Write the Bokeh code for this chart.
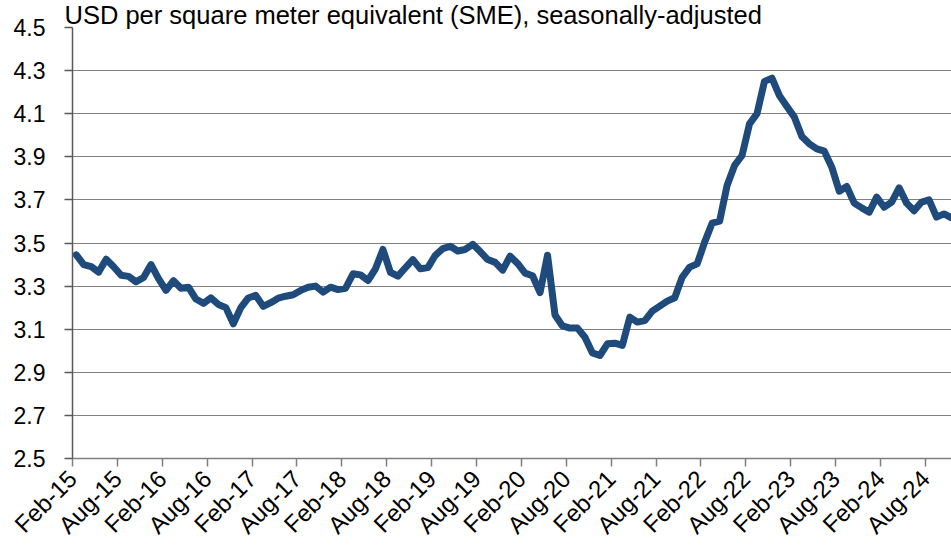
import math
from bokeh.plotting import figure
from bokeh.models import FixedTicker, Range1d, PrintfTickFormatter
from bokeh.embed import file_html
from bokeh.resources import INLINE

# Monthly values, USD per square meter equivalent (Feb-2015 .. Nov-2024)
v2015 = [3.445, 3.40, 3.39, 3.365, 3.425, 3.39, 3.35, 3.345, 3.32, 3.34, 3.40]
v2016 = [3.335, 3.28, 3.325, 3.29, 3.295, 3.24, 3.22, 3.245, 3.215, 3.20, 3.125, 3.20]
v2017 = [3.245, 3.257, 3.206, 3.223, 3.244, 3.253, 3.26, 3.28, 3.295, 3.30, 3.272, 3.295]
v2018 = [3.284, 3.29, 3.357, 3.352, 3.326, 3.38, 3.47, 3.364, 3.346, 3.385, 3.423, 3.38]
v2019 = [3.386, 3.443, 3.474, 3.485, 3.463, 3.47, 3.494, 3.46, 3.423, 3.41, 3.374, 3.439]
v2020 = [3.405, 3.36, 3.348, 3.27, 3.443, 3.166, 3.115, 3.105, 3.105, 3.063, 2.99, 2.978]
v2021 = [3.032, 3.035, 3.025, 3.156, 3.133, 3.14, 3.184, 3.207, 3.23, 3.246, 3.341, 3.388]
v2022 = [3.403, 3.504, 3.592, 3.601, 3.767, 3.86, 3.906, 4.053, 4.10, 4.25, 4.265, 4.184]
v2023 = [4.133, 4.084, 3.994, 3.96, 3.937, 3.926, 3.852, 3.74, 3.762, 3.685, 3.663, 3.643]
v2024 = [3.713, 3.666, 3.69, 3.756, 3.685, 3.65, 3.69, 3.70, 3.62, 3.635, 3.617]

tick_labels = ["Feb-15", "Aug-15", "Feb-16", "Aug-16", "Feb-17", "Aug-17",
               "Feb-18", "Aug-18", "Feb-19", "Aug-19", "Feb-20", "Aug-20",
               "Feb-21", "Aug-21", "Feb-22", "Aug-22", "Feb-23", "Aug-23",
               "Feb-24", "Aug-24"]
y_ticks = [2.5, 2.7, 2.9, 3.1, 3.3, 3.5, 3.7, 3.9, 4.1, 4.3, 4.5]
title_text = "USD per square meter equivalent (SME), seasonally-adjusted"

values = v2015 + v2016 + v2017 + v2018 + v2019 + v2020 + v2021 + v2022 + v2023 + v2024
xs = list(range(len(values)))

FONT = "Liberation Sans"

p = figure(width=951, height=552, output_backend="svg", toolbar_location=None,
           x_range=Range1d(-0.5, 117.0), y_range=Range1d(2.5, 4.5),
           min_border_left=72, min_border_right=0, min_border_top=27,
           min_border_bottom=94)
p.outline_line_color = None
p.background_fill_color = "white"
p.border_fill_color = "white"

p.title.text = title_text
p.title.align = "left"
p.title.offset = -8
p.title.standoff = -3
p.title.text_font = FONT
p.title.text_font_size = "25.5px"
p.title.text_font_style = "normal"
p.title.text_color = "#000000"

p.line(xs, values, line_color="#1f4a7c", line_width=7,
       line_join="round", line_cap="round")

# x axis
tick_pos = [-0.5 + 6 * k for k in range(len(tick_labels))]
p.xaxis.ticker = FixedTicker(ticks=tick_pos)
p.xaxis.major_label_overrides = {t: lab for t, lab in zip(tick_pos, tick_labels)}
p.xaxis.major_label_orientation = math.pi / 4
p.xaxis.axis_line_color = "#7f7f7f"
p.xaxis.axis_line_width = 1.5
p.xaxis.major_tick_line_color = "#7f7f7f"
p.xaxis.major_tick_line_width = 1.5
p.xaxis.major_tick_out = 8
p.xaxis.major_tick_in = 0
p.xaxis.minor_tick_line_color = None
p.xaxis.major_label_text_font = FONT
p.xaxis.major_label_text_font_size = "24px"
p.xaxis.major_label_text_color = "#000000"
p.xaxis.major_label_standoff = 8

# y axis
p.yaxis.ticker = FixedTicker(ticks=y_ticks)
p.yaxis.formatter = PrintfTickFormatter(format="%.1f")
p.yaxis.axis_line_color = "#595959"
p.yaxis.axis_line_width = 1.5
p.yaxis.major_tick_line_color = "#595959"
p.yaxis.major_tick_line_width = 1.5
p.yaxis.major_tick_out = 8
p.yaxis.major_tick_in = 0
p.yaxis.minor_tick_line_color = None
p.yaxis.major_label_text_font = FONT
p.yaxis.major_label_text_font_size = "23px"
p.yaxis.major_label_text_color = "#000000"
p.yaxis.major_label_standoff = 19

# grid
p.xgrid.grid_line_color = None
p.ygrid.ticker = FixedTicker(ticks=y_ticks[1:-1])
p.ygrid.grid_line_color = "#000000"
p.ygrid.grid_line_dash = "1 1"
p.ygrid.grid_line_width = 1.2

open("out.html", "w").write(file_html(p, INLINE))
